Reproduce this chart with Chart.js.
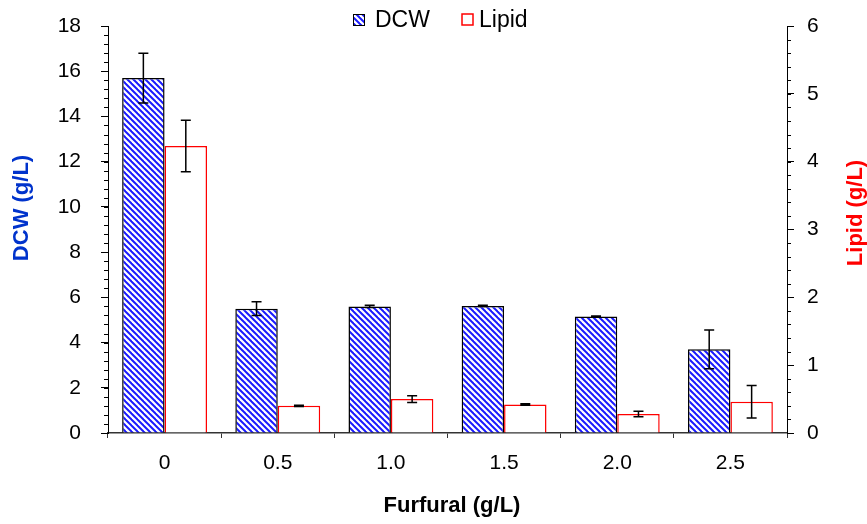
<!DOCTYPE html>
<html>
<head>
<meta charset="utf-8">
<script src="https://cdn.jsdelivr.net/npm/chart.js@4/dist/chart.umd.min.js"></script>
<style>
  body { margin: 0; background: #fff; }
  #wrap { width: 867px; height: 524px; }
</style>
</head>
<body>
<div id="wrap"><canvas id="c" width="867" height="524"></canvas></div>
<script>
// data
var furfural = ["0", "0.5", "1.0", "1.5", "2.0", "2.5"];
var dcw = [15.7, 5.5, 5.6, 5.62, 5.15, 3.7];
var dcwErr = [1.1, 0.3, 0.05, 0.03, 0.02, 0.86];
var lipid = [4.23, 0.40, 0.50, 0.42, 0.28, 0.46];
var lipidErr = [0.38, 0.01, 0.05, 0.01, 0.04, 0.24];

var FONT = "'Liberation Sans', Arial, sans-serif";
var BLUE_TITLE = "#0033cc";

// blue/white diagonal hatch like the excel fill
function makeHatch() {
    var p = document.createElement("canvas");
    p.width = 6; p.height = 6;
    var g = p.getContext("2d");
    g.fillStyle = "#fff";
    g.fillRect(0, 0, 6, 6);
    g.strokeStyle = "#1a1aff";
    g.lineWidth = 2.0;
    for (var c = -6; c <= 6; c += 6) {
        g.beginPath();
        g.moveTo(-1, c - 1);
        g.lineTo(7, c + 7);
        g.stroke();
    }
    return document.getElementById("c").getContext("2d").createPattern(p, "repeat");
}
var hatch = makeHatch();

// y scales: fixed width, and top padding so the plot starts at y=26
function fitY(width) {
    return function (s) {
        s.width = width;
        s.paddingTop = 26;
        s.paddingBottom = 0;
    };
}

var extras = {
    id: "extras",
    afterDatasetsDraw: function (chart) {
        var ctx = chart.ctx;
        ctx.save();
        ctx.strokeStyle = "#000";
        ctx.lineWidth = 1.5;
        var sets = [[0, dcw, dcwErr, chart.scales.y], [1, lipid, lipidErr, chart.scales.y1]];
        sets.forEach(function (s) {
            var meta = chart.getDatasetMeta(s[0]);
            meta.data.forEach(function (bar, i) {
                var x = bar.x, hi = s[3].getPixelForValue(s[1][i] + s[2][i]),
                    lo = s[3].getPixelForValue(s[1][i] - s[2][i]);
                ctx.beginPath();
                ctx.moveTo(x, hi); ctx.lineTo(x, lo);
                ctx.moveTo(x - 5, hi); ctx.lineTo(x + 5, hi);
                ctx.moveTo(x - 5, lo); ctx.lineTo(x + 5, lo);
                ctx.stroke();
            });
        });
        ctx.restore();
    },
    afterDraw: function (chart) {
        var ctx = chart.ctx, y = chart.scales.y, y1 = chart.scales.y1, a = chart.chartArea;
        ctx.save();
        // minor ticks
        ctx.strokeStyle = "#000";
        ctx.lineWidth = 1;
        ctx.beginPath();
        for (var v = 0; v <= 18.001; v += 0.4) {
            var py = Math.round(y.getPixelForValue(v)) + 0.5;
            ctx.moveTo(a.left - 4, py); ctx.lineTo(a.left, py);
        }
        for (var w = 0; w <= 6.001; w += 0.2) {
            var py2 = Math.round(y1.getPixelForValue(w)) + 0.5;
            ctx.moveTo(a.right, py2); ctx.lineTo(a.right + 4, py2);
        }
        ctx.stroke();

        // axis titles
        ctx.font = "bold 22px " + FONT;
        ctx.textAlign = "center";
        ctx.textBaseline = "middle";
        ctx.fillStyle = "#000";
        ctx.fillText("Furfural (g/L)", 452, 506);
        ctx.save();
        ctx.translate(22, 208);
        ctx.rotate(-Math.PI / 2);
        ctx.fillStyle = BLUE_TITLE;
        ctx.fillText("DCW (g/L)", 0, 0);
        ctx.restore();
        ctx.save();
        ctx.translate(856, 213);
        ctx.rotate(-Math.PI / 2);
        ctx.fillStyle = "#ff0000";
        ctx.fillText("Lipid (g/L)", 0, 0);
        ctx.restore();

        // legend
        ctx.font = "23px " + FONT;
        ctx.textAlign = "left";
        ctx.textBaseline = "alphabetic";
        ctx.fillStyle = hatch;
        ctx.fillRect(353, 14, 12, 12);
        ctx.strokeStyle = "#000";
        ctx.lineWidth = 1;
        ctx.strokeRect(353.5, 14.5, 11, 11);
        ctx.fillStyle = "#000";
        ctx.fillText("DCW", 375, 27);
        ctx.fillStyle = "#fff";
        ctx.fillRect(462, 14, 11, 11);
        ctx.strokeStyle = "#ff0000";
        ctx.lineWidth = 1.5;
        ctx.strokeRect(462, 14, 11, 11);
        ctx.fillStyle = "#000";
        ctx.fillText("Lipid", 479, 27);
        ctx.restore();
    }
};

new Chart(document.getElementById("c"), {
    type: "bar",
    data: {
        labels: furfural,
        datasets: [
            {label: "DCW", data: dcw, yAxisID: "y", backgroundColor: hatch, borderColor: "#000", borderWidth: 1.5},
            {label: "Lipid", data: lipid, yAxisID: "y1", backgroundColor: "#fff", borderColor: "#ff0000", borderWidth: 1.5}
        ]
    },
    options: {
        responsive: false,
        animation: false,
        layout: {padding: 0},
        datasets: {bar: {categoryPercentage: 0.75, barPercentage: 1}},
        plugins: {legend: {display: false}, tooltip: {enabled: false}},
        scales: {
            x: {
                afterFit: function (s) { s.height = 91; },
                grid: {offset: true, drawOnChartArea: false, tickLength: 5, color: "#333"},
                border: {color: "#333", width: 1.5},
                ticks: {color: "#000", padding: 13, font: {family: FONT, size: 21}}
            },
            y: {
                position: "left", min: 0, max: 18,
                afterFit: fitY(108),
                grid: {drawOnChartArea: false, tickLength: 7, color: "#000"},
                border: {color: "#000", width: 1},
                ticks: {stepSize: 2, color: "#000", padding: 20, font: {family: FONT, size: 21}}
            },
            y1: {
                position: "right", min: 0, max: 6,
                afterFit: fitY(80),
                grid: {drawOnChartArea: false, tickLength: 7, color: "#000"},
                border: {color: "#000", width: 1},
                ticks: {stepSize: 1, color: "#000", padding: 13, font: {family: FONT, size: 21}}
            }
        }
    },
    plugins: [extras]
});
</script>
</body>
</html>
